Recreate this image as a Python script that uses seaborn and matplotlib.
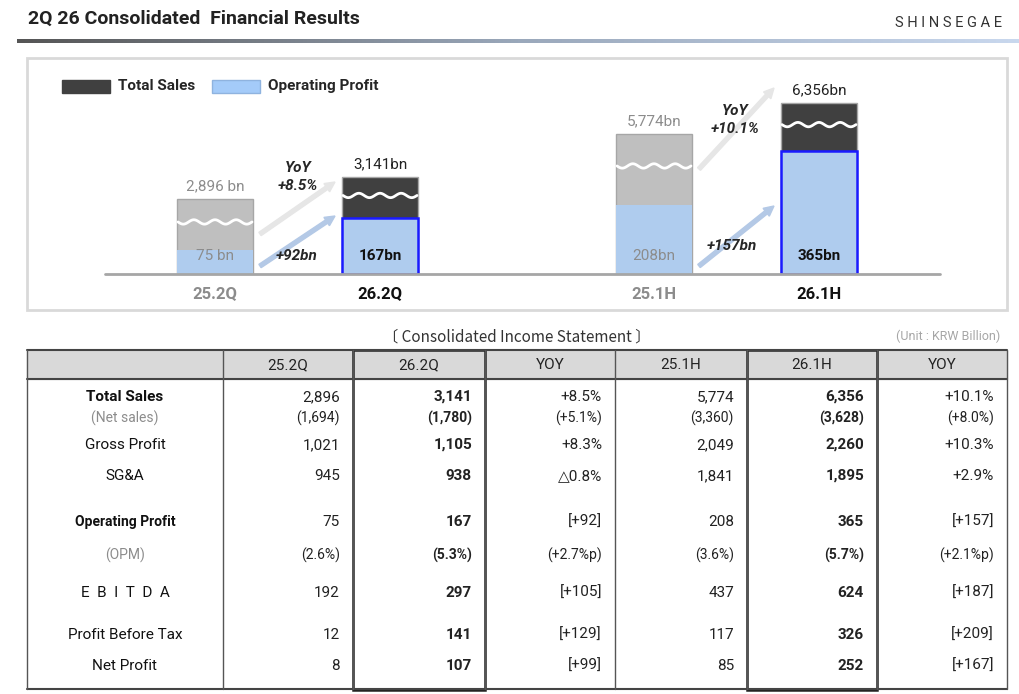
import numpy as np
import pandas as pd
import matplotlib
matplotlib.use("Agg")
import matplotlib.pyplot as plt
import seaborn as sns
from matplotlib.patches import Rectangle, FancyArrow

# ---- data ----
periods = ["25.2Q", "26.2Q", "25.1H", "26.1H"]
total_sales = [2896, 3141, 5774, 6356]
op_profit = [75, 167, 208, 365]
sales_labels = ["2,896 bn", "3,141bn", "5,774bn", "6,356bn"]
op_labels = ["75 bn", "167bn", "208bn", "365bn"]
# the bars use a broken axis: shown heights (chart units) for sales and profit
shown_sales = [75, 97, 140, 171]
shown_op = [24, 56, 69, 123]
yoy_sales = ["YoY\n+8.5%", "YoY\n+10.1%"]
yoy_op = ["+92bn", "+157bn"]

col_heads = ["", "25.2Q", "26.2Q", "YOY", "25.1H", "26.1H", "YOY"]
row_names = ["Total Sales", "(Net sales)", "Gross Profit", "SG&A", "Operating Profit",
             "(OPM)", "E  B  I  T  D  A", "Profit Before Tax", "Net Profit"]
table_vals = [
    ["2,896", "3,141", "+8.5%", "5,774", "6,356", "+10.1%"],
    ["(1,694)", "(1,780)", "(+5.1%)", "(3,360)", "(3,628)", "(+8.0%)"],
    ["1,021", "1,105", "+8.3%", "2,049", "2,260", "+10.3%"],
    ["945", "938", "△0.8%", "1,841", "1,895", "+2.9%"],
    ["75", "167", "[+92]", "208", "365", "[+157]"],
    ["(2.6%)", "(5.3%)", "(+2.7%p)", "(3.6%)", "(5.7%)", "(+2.1%p)"],
    ["192", "297", "[+105]", "437", "624", "[+187]"],
    ["12", "141", "[+129]", "117", "326", "[+209]"],
    ["8", "107", "[+99]", "85", "252", "[+167]"],
]

sns.set_theme(style="white")
FONT = ["Roboto", "DejaVu Sans"]
plt.rcParams["font.family"] = FONT

W, H = 1020, 694
fig = plt.figure(figsize=(W / 100, H / 100), dpi=100)

# chart axes in pixel-like units
base, top = 274, 60
cx = [215, 380, 654, 819]
ax = fig.add_axes([100 / W, (H - base) / H, 840 / W, (base - top) / H], zorder=1)
ax.patch.set_alpha(0)
df = pd.DataFrame({"x": cx, "sales": shown_sales, "op": shown_op, "period": periods})
bw = 76 / 165
sales_cols = ["#bfbfbf", "#404040", "#bfbfbf", "#404040"]
sns.barplot(data=df, x="x", y="sales", hue="period", palette=sales_cols, native_scale=True,
            width=bw, legend=False, ax=ax, edgecolor="#a6a6a6", linewidth=1)
sns.barplot(data=df, x="x", y="op", hue="period",
            palette=["#a4cbf9"] * 4, native_scale=True, width=bw, legend=False, ax=ax,
            linewidth=0)
# current-year profit bars get a blue outline
for i, p in enumerate(ax.patches[4:]):
    if i % 2 == 1:
        p.set_edgecolor("#1a1aff")
        p.set_linewidth(1.8)
ax.set_xlim(100, 940)
ax.set_ylim(0, base - top)
ax.axis("off")

# overlay axes in pixel coordinates
ov = fig.add_axes([0, 0, 1, 1], zorder=2)
ov.patch.set_alpha(0)
ov.set_xlim(0, W)
ov.set_ylim(H, 0)
ov.axis("off")

ov.text(28, 19, "2Q 26 Consolidated  Financial Results", fontsize=14, fontweight="bold",
        va="center", color="#222222")
ov.text(1002, 23, "S H I N S E G A E", fontsize=10.5, ha="right", va="center", color="#333333")
grad = np.linspace(0, 1, 256).reshape(1, -1)
cmap = matplotlib.colors.LinearSegmentedColormap.from_list("g", ["#555555", "#9aa8bb", "#c9d8ee"])
ov.imshow(grad, extent=[17, 1020, 43, 39], aspect="auto", cmap=cmap, zorder=1)
ov.set_xlim(0, W)
ov.set_ylim(H, 0)

ov.add_patch(Rectangle((27, 58), 980, 252, fill=False, edgecolor="#d9d9d9", lw=2))
ov.plot([105, 940], [274, 274], color="#a6a6a6", lw=2)

# legend
ov.add_patch(Rectangle((62, 80), 48, 13, color="#404040"))
ov.text(118, 86, "Total Sales", fontsize=11, fontweight="bold", va="center")
ov.add_patch(Rectangle((212, 80), 48, 13, facecolor="#a4cbf9", edgecolor="#8fb3df"))
ov.text(268, 86, "Operating Profit", fontsize=11, fontweight="bold", va="center")

for i, x in enumerate(cx):
    cur = i % 2 == 1
    col = "#222222" if cur else "#8c8c8c"
    stop = base - shown_sales[i]
    ov.text(x, stop - 13, sales_labels[i], ha="center", va="center", fontsize=11, color=col)
    ov.text(x, base - 18, op_labels[i], ha="center", va="center", fontsize=11,
            color="#111111" if cur else "#8c8c8c", fontweight="bold" if cur else "normal")
    ov.text(x, 294, periods[i], ha="center", va="center", fontsize=12, fontweight="bold",
            color="#111111" if cur else "#8c8c8c")
    # wave marking the axis break
    wy = base - shown_op[i] - (shown_sales[i] - shown_op[i]) * 0.55
    wx = np.linspace(x - 37, x + 37, 80)
    ov.plot(wx, wy + 2.2 * np.sin((wx - x + 37) / 74 * 2 * np.pi * 3.5), color="white", lw=2)

for k, (a, b) in enumerate([(0, 1), (2, 3)]):
    x0 = cx[a] + 45
    x1 = cx[b] - 45
    sy0 = base - shown_sales[a] + 35
    sy1 = base - shown_sales[b] + 35
    ov.add_patch(FancyArrow(x0, sy0, x1 - x0, sy1 - sy0 - 30 if k == 0 else sy1 - sy0 - 50,
                            width=4, head_width=10, head_length=10, color="#e6e6e6",
                            length_includes_head=True, zorder=0))
    ov.add_patch(FancyArrow(x0, base - 8, x1 - x0, -50 if k == 0 else -60, width=4,
                            head_width=10, head_length=10, color="#b4c9e6",
                            length_includes_head=True, zorder=0))
ov.text(298, 177, yoy_sales[0], ha="center", va="center", fontsize=11, fontweight="bold",
        style="italic", linespacing=1.3)
ov.text(735, 120, yoy_sales[1], ha="center", va="center", fontsize=11, fontweight="bold",
        style="italic", linespacing=1.3)
ov.text(297, 256, yoy_op[0], ha="center", va="center", fontsize=11, fontweight="bold", style="italic")
ov.text(732, 246, yoy_op[1], ha="center", va="center", fontsize=11, fontweight="bold", style="italic")

# ---- table ----
ov.text(517, 337, "〔 Consolidated Income Statement 〕", ha="center", va="center", fontsize=11,
        color="#333333", family=["Noto Sans CJK KR", "DejaVu Sans"])
ov.text(1000, 336, "(Unit : KRW Billion)", ha="right", va="center", fontsize=9, color="#a6a6a6")
edges = [27, 223, 353, 485, 615, 747, 877, 1007]
t_top, h_bot, t_bot = 350, 379, 689
ov.add_patch(Rectangle((27, t_top), 980, h_bot - t_top, color="#d9d9d9", zorder=0))
ov.plot([27, 1007], [t_top, t_top], color="#444444", lw=1.5)
ov.plot([27, 1007], [h_bot, h_bot], color="#444444", lw=1.5)
ov.plot([27, 1007], [t_bot, t_bot], color="#444444", lw=1.5)
for e in edges:
    ov.plot([e, e], [t_top, t_bot], color="#555555", lw=1)
for c in (2, 5):
    ov.add_patch(Rectangle((edges[c], t_top), edges[c + 1] - edges[c], t_bot - t_top + 1,
                           fill=False, edgecolor="#222222", lw=1.8))
for c in range(1, 7):
    ov.text((edges[c] + edges[c + 1]) / 2, 365, col_heads[c], ha="center", va="center",
            fontsize=11, color="#222222")
row_y = [397, 418, 445, 476, 522, 555, 593, 635, 666]
for r, y in enumerate(row_y):
    name = row_names[r]
    small = r in (1, 5)
    ov.text(125, y, name, ha="center", va="center",
            fontsize=10 if small else (11 if r != 4 else 10),
            color="#8c8c8c" if small else "#111111",
            fontweight="bold" if r in (0, 4) else "normal")
    for c, v in enumerate(table_vals[r]):
        ov.text(edges[c + 2] - 13, y, v, ha="right", va="center",
                fontsize=10 if small else 11, color="#222222",
                fontweight="bold" if c in (1, 4) else "normal", family=FONT)

fig.savefig("out.png", dpi=100)
